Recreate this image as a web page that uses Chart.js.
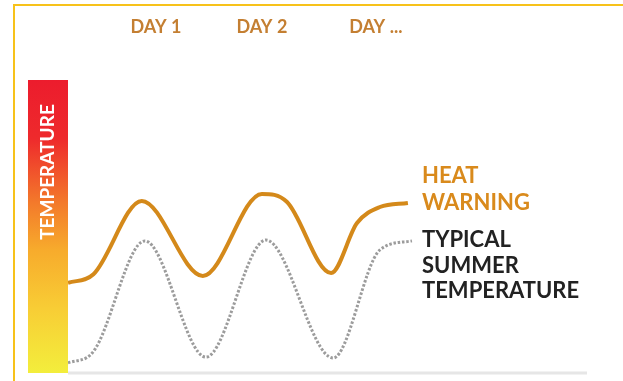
<!DOCTYPE html>
<html>
<head>
<meta charset="utf-8">
<script src="https://cdn.jsdelivr.net/npm/chart.js@4.4.1/dist/chart.umd.min.js"></script>
<style>
  html, body { margin: 0; padding: 0; background: #fff; }
  #wrap { width: 623px; height: 381px; position: relative; }
</style>
</head>
<body>
<div id="wrap"><canvas id="heatChart"></canvas></div>
<script>
// time in hours from start, temperature on a 0-100 relative scale
const heatHours = [0, 5, 14.5, 26.5, 38.1, 43.0, 51.7, 56.8, 61.3, 66.8];
const heatTemps = [30.5, 33.5, 58.6, 32.9, 61, 58.3, 33.9, 51, 56.5, 57.9];

const typicalHours = [0, 4.9, 15.1, 27.1, 38.9, 52.1, 61.3, 67.6];
const typicalTemps = [3.1, 6.8, 44.9, 5.1, 45.2, 4.8, 41.8, 44.9];

const dayLabels = ['DAY 1', 'DAY 2', 'DAY ...'];
const dayHours = [17.3, 38.1, 60.5];

const heatLabel = ['HEAT', 'WARNING'];
const typicalLabel = ['TYPICAL', 'SUMMER', 'TEMPERATURE'];

const toPoints = (xs, ys) => xs.map((x, i) => ({ x: x, y: ys[i] }));

const decorations = {
  id: 'decorations',
  beforeDraw(chart) {
    const ctx = chart.ctx;
    const area = chart.chartArea;
    ctx.save();
    // frame
    ctx.strokeStyle = '#f7c21a';
    ctx.lineWidth = 2;
    ctx.beginPath();
    ctx.moveTo(623, 5);
    ctx.lineTo(14, 5);
    ctx.lineTo(14, 381);
    ctx.stroke();

    // temperature bar
    const g = ctx.createLinearGradient(0, area.top, 0, area.bottom + 1);
    g.addColorStop(0, '#ec1c2d');
    g.addColorStop(0.2, '#ee2a2c');
    g.addColorStop(0.42, '#f37a2b');
    g.addColorStop(0.58, '#f7ab2c');
    g.addColorStop(0.78, '#f8cd35');
    g.addColorStop(1, '#f3ee3c');
    ctx.fillStyle = g;
    ctx.fillRect(28, area.top, area.left - 28, area.bottom - area.top + 1);

    ctx.translate(48, 172);
    ctx.rotate(-Math.PI / 2);
    ctx.fillStyle = '#ffffff';
    ctx.font = 'bold 19px Lato';
    ctx.textAlign = 'center';
    ctx.textBaseline = 'middle';
    ctx.fillText('TEMPERATURE', 0, 0);
    ctx.restore();

    // baseline
    ctx.save();
    ctx.strokeStyle = '#e6e6e6';
    ctx.lineWidth = 3;
    ctx.beginPath();
    ctx.moveTo(area.left, area.bottom + 1);
    ctx.lineTo(area.right, area.bottom + 1);
    ctx.stroke();
    ctx.restore();
  },
  afterDraw(chart) {
    const ctx = chart.ctx;
    const xs = chart.scales.x;
    ctx.save();
    ctx.textBaseline = 'alphabetic';
    ctx.textAlign = 'center';
    ctx.fillStyle = '#c47f32';
    ctx.font = 'bold 18px Lato';
    dayLabels.forEach((t, i) => {
      ctx.fillText(t, xs.getPixelForValue(dayHours[i]), 33);
    });

    ctx.textAlign = 'left';
    ctx.font = 'bold 22px Lato';
    ctx.fillStyle = '#d98a1c';
    heatLabel.forEach((t, i) => ctx.fillText(t, 422, 183 + i * 27));
    ctx.fillStyle = '#222222';
    typicalLabel.forEach((t, i) => ctx.fillText(t, 422, 247 + i * 25.5));
    ctx.restore();
  }
};

new Chart(document.getElementById('heatChart'), {
  type: 'line',
  data: {
    datasets: [
      {
        label: 'Heat warning',
        data: toPoints(heatHours, heatTemps),
        borderColor: '#d4891a',
        borderWidth: 4,
        pointRadius: 0,
        cubicInterpolationMode: 'monotone',
        fill: false
      },
      {
        label: 'Typical summer temperature',
        data: toPoints(typicalHours, typicalTemps),
        borderColor: '#9c9c9c',
        borderWidth: 3,
        borderDash: [2.5, 1.8],
        borderCapStyle: 'butt',
        pointRadius: 0,
        cubicInterpolationMode: 'monotone',
        fill: false
      }
    ]
  },
  options: {
    responsive: true,
    maintainAspectRatio: false,
    animation: false,
    layout: { padding: { left: 68, right: 36, top: 80, bottom: 9 } },
    plugins: { legend: { display: false }, tooltip: { enabled: false } },
    scales: {
      x: { type: 'linear', min: 0, max: 102, display: false },
      y: { min: 0, max: 100, display: false }
    }
  },
  plugins: [decorations]
});
</script>
</body>
</html>
